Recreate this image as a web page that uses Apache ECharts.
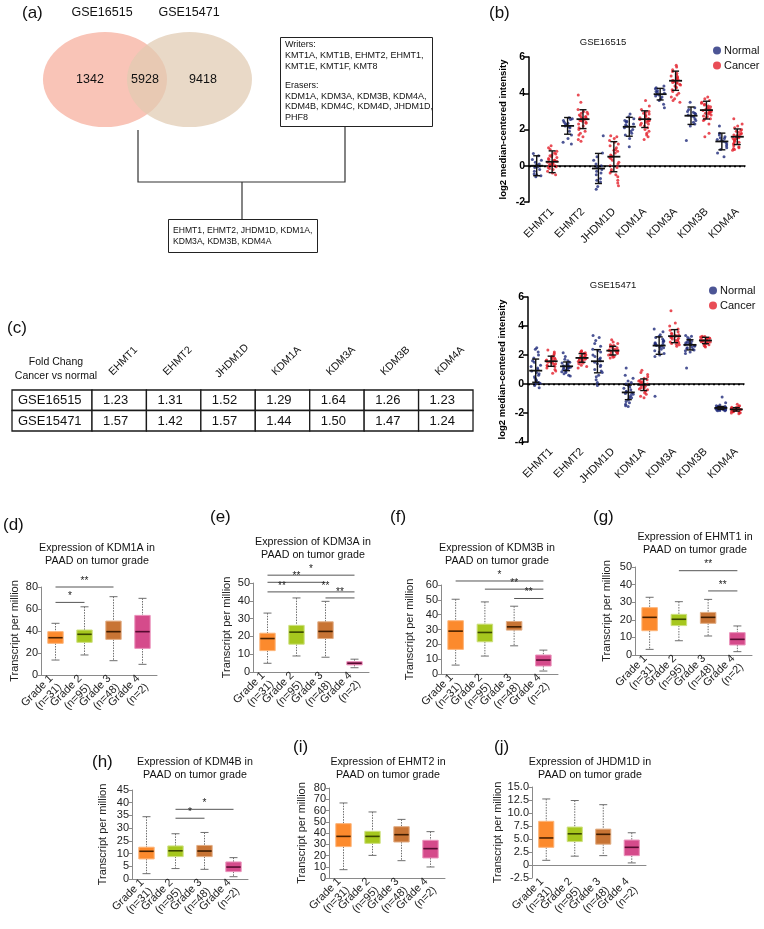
<!DOCTYPE html>
<html><head><meta charset="utf-8">
<script src="https://cdn.jsdelivr.net/npm/echarts@6/dist/echarts.min.js"></script>
<style>html,body{margin:0;padding:0;background:#fff}#c{width:764px;height:929px}</style>
</head><body><div id="c"></div>
<script>
const FONT = 'Liberation Sans, Arial, Helvetica, sans-serif';

// ---------- (a) Venn + gene lists ----------
const vennSets = ['GSE16515', 'GSE15471'];
const vennCounts = [1342, 5928, 9418];
const writersList = ['Writers:', 'KMT1A, KMT1B, EHMT2, EHMT1,', 'KMT1E, KMT1F, KMT8'];
const erasersList = ['Erasers:', 'KDM1A, KDM3A, KDM3B, KDM4A,', 'KDM4B, KDM4C, KDM4D, JHDM1D,', 'PHF8'];
const overlapList = ['EHMT1, EHMT2, JHDM1D, KDM1A,', 'KDM3A, KDM3B, KDM4A'];

// ---------- (b) dot plots ----------
const genes = ['EHMT1', 'EHMT2', 'JHDM1D', 'KDM1A', 'KDM3A', 'KDM3B', 'KDM4A'];
const groupNames = ['Normal', 'Cancer'];

const g16515Normal = [
  [0.68,0.55,0.35,0.3,0.2,0.1,0.05,0,-0.05,-0.1,-0.2,-0.3,-0.45,-0.5,-0.55,-0.6],
  [2.65,2.6,2.55,2.5,2.4,2.35,2.3,2.25,2.2,2.15,2.1,1.9,1.7,1.5,1.3,1.2],
  [1.65,0.7,0.5,0.3,0.1,0,-0.1,-0.2,-0.3,-0.4,-0.5,-0.7,-0.8,-0.9,-1.15,-1.3],
  [2.85,2.7,2.6,2.5,2.45,2.4,2.3,2.25,2.2,2.1,2.0,1.9,1.8,1.7,1.5,1.05],
  [4.4,4.3,4.25,4.2,4.15,4.1,4.05,4.0,3.95,3.9,3.85,3.8,3.7,3.6,3.4,3.2],
  [3.5,3.2,3.1,3.0,2.95,2.9,2.85,2.8,2.75,2.7,2.6,2.5,2.4,2.3,2.2,1.4],
  [2.2,1.8,1.7,1.6,1.55,1.5,1.45,1.4,1.35,1.3,1.2,1.1,1.0,0.9,0.7,0.5]
];
const g16515Cancer = [
  [1.1,1.0,0.9,0.8,0.7,0.65,0.6,0.55,0.5,0.45,0.4,0.35,0.3,0.3,0.25,0.2,0.2,0.15,0.1,0.1,0.05,0,0,-0.05,-0.1,-0.15,-0.2,-0.3,-0.4,-0.5],
  [3.9,3.5,3.1,3.0,2.95,2.9,2.85,2.8,2.75,2.7,2.7,2.65,2.6,2.6,2.55,2.5,2.5,2.45,2.4,2.35,2.3,2.2,2.1,2.0,1.9,1.8,1.7,1.6,1.45,1.35],
  [1.65,1.6,1.5,1.4,1.3,1.2,1.1,1.0,0.9,0.85,0.8,0.7,0.6,0.55,0.5,0.45,0.4,0.3,0.2,0.1,0,-0.1,-0.2,-0.3,-0.4,-0.5,-0.6,-0.8,-0.95,-1.1],
  [3.6,3.3,3.1,3.0,2.95,2.9,2.85,2.8,2.75,2.7,2.65,2.6,2.6,2.55,2.55,2.5,2.5,2.45,2.4,2.35,2.3,2.25,2.2,2.1,2.0,1.9,1.8,1.7,1.6,1.45],
  [5.55,5.45,5.3,5.2,5.1,5.0,4.95,4.9,4.85,4.8,4.75,4.7,4.7,4.65,4.6,4.6,4.55,4.5,4.45,4.4,4.35,4.3,4.2,4.1,4.0,3.9,3.8,3.7,3.6,3.5],
  [3.8,3.7,3.6,3.5,3.45,3.4,3.35,3.3,3.25,3.2,3.15,3.1,3.1,3.05,3.0,3.0,2.95,2.9,2.9,2.85,2.8,2.75,2.7,2.65,2.6,2.55,2.5,2.3,1.8,1.6],
  [2.6,2.3,2.2,2.1,2.0,1.95,1.9,1.85,1.8,1.75,1.7,1.7,1.65,1.6,1.6,1.55,1.5,1.5,1.45,1.4,1.35,1.3,1.25,1.2,1.1,1.05,1.0,0.95,0.9,0.85]
];
const g16515NormalMean = [0, 2.2, -0.15, 2.15, 3.95, 2.76, 1.34];
const g16515NormalSD   = [0.55, 0.46, 0.83, 0.52, 0.32, 0.48, 0.46];
const g16515CancerMean = [0.22, 2.57, 0.5, 2.57, 4.69, 3.07, 1.6];
const g16515CancerSD   = [0.6, 0.52, 0.83, 0.46, 0.53, 0.49, 0.43];

const g15471Normal = [
  [2.5,2.4,2.2,2.0,1.8,1.6,1.5,1.3,1.2,1.1,1.0,0.9,0.8,0.7,0.6,0.5,0.4,0.3,0.25,0.2,0.1,0.05,0,-0.1,-0.25],
  [2.15,1.9,1.7,1.6,1.5,1.45,1.4,1.35,1.3,1.25,1.25,1.2,1.2,1.15,1.1,1.1,1.05,1.0,0.95,0.9,0.85,0.8,0.7,0.6,0.55],
  [3.35,3.2,3.0,2.8,2.6,2.4,2.3,2.2,2.0,1.9,1.8,1.7,1.6,1.5,1.4,1.3,1.2,1.0,0.9,0.8,0.6,0.5,0.3,0.1,-0.1],
  [1.1,0.6,0.4,0.2,0.1,0,-0.1,-0.2,-0.3,-0.4,-0.5,-0.55,-0.6,-0.65,-0.7,-0.8,-0.9,-0.95,-1.0,-1.1,-1.2,-1.3,-1.4,-1.5,-1.55],
  [3.8,3.6,3.4,3.3,3.2,3.1,3.0,2.95,2.9,2.85,2.8,2.75,2.7,2.7,2.65,2.6,2.55,2.5,2.4,2.3,2.2,2.1,2.0,1.9,-0.85],
  [3.35,3.3,3.2,3.1,3.05,3.0,2.95,2.9,2.85,2.8,2.8,2.75,2.7,2.7,2.65,2.6,2.55,2.5,2.45,2.4,2.35,2.3,2.2,2.1,1.1],
  [-0.9,-1.3,-1.45,-1.5,-1.55,-1.55,-1.6,-1.6,-1.6,-1.62,-1.65,-1.65,-1.65,-1.68,-1.7,-1.7,-1.72,-1.75,-1.75,-1.78,-1.8,-1.8,-1.82,-1.85,-1.85]
];
const g15471Cancer = [
  [2.35,2.2,2.1,2.0,1.9,1.85,1.8,1.75,1.7,1.65,1.6,1.6,1.55,1.5,1.5,1.45,1.4,1.35,1.3,1.25,1.2,1.1,1.0,0.9,0.75],
  [2.3,2.25,2.2,2.15,2.1,2.05,2.0,1.95,1.9,1.85,1.85,1.8,1.8,1.75,1.7,1.7,1.65,1.6,1.55,1.5,1.45,1.4,1.3,1.2,1.1],
  [3.05,2.9,2.8,2.7,2.65,2.6,2.55,2.5,2.45,2.4,2.35,2.35,2.3,2.3,2.25,2.2,2.2,2.15,2.1,2.05,2.0,1.95,1.9,1.85,1.8],
  [0.95,0.8,0.65,0.5,0.4,0.3,0.25,0.2,0.15,0.1,0.05,0,-0.05,-0.1,-0.15,-0.2,-0.25,-0.3,-0.35,-0.4,-0.5,-0.6,-0.7,-0.85,-0.95],
  [5.05,4.2,4.0,3.8,3.7,3.6,3.5,3.45,3.4,3.35,3.3,3.3,3.25,3.2,3.15,3.1,3.05,3.0,2.95,2.9,2.85,2.8,2.75,2.7,2.6],
  [3.3,3.28,3.25,3.2,3.18,3.15,3.1,3.08,3.05,3.02,3.0,3.0,2.98,2.95,2.92,2.9,2.88,2.85,2.82,2.8,2.75,2.7,2.65,2.6,2.55],
  [-1.4,-1.5,-1.55,-1.6,-1.62,-1.65,-1.68,-1.7,-1.7,-1.72,-1.75,-1.75,-1.75,-1.78,-1.8,-1.8,-1.82,-1.85,-1.88,-1.9,-1.92,-1.95,-1.98,-2.0,-2.05]
];
const g15471NormalMean = [0.92, 1.22, 1.57, -0.58, 2.65, 2.7, -1.65];
const g15471NormalSD   = [0.8, 0.3, 0.8, 0.5, 0.6, 0.35, 0.1];
const g15471CancerMean = [1.57, 1.8, 2.3, -0.05, 3.3, 3.0, -1.75];
const g15471CancerSD   = [0.35, 0.3, 0.3, 0.4, 0.45, 0.22, 0.12];

// ---------- (c) fold change table ----------
const foldRowNames = ['GSE16515', 'GSE15471'];
const fold16515 = [1.23, 1.31, 1.52, 1.29, 1.64, 1.26, 1.23];
const fold15471 = [1.57, 1.42, 1.57, 1.44, 1.50, 1.47, 1.24];

// ---------- (d)-(j) box plots: [min, q1, median, q3, max] ----------
const grades = ['Grade 1\n(n=31)', 'Grade 2\n(n=95)', 'Grade 3\n(n=48)', 'Grade 4\n(n=2)'];
const kdm1aBox  = [[13.6,28.8,33.9,39.4,47],[18.2,29.7,37,40.9,62],[13,32.4,39.4,49,71.2],[9.7,24.2,39.4,54.2,69.7]];
const kdm3aBox  = [[4.9,12,18.8,21.8,33.1],[9,15.6,22.4,26.2,41.6],[8.3,18.8,22.8,28.2,39.7],[2.4,4,4.9,5.8,7.2]];
const kdm3bBox  = [[6,16.6,28.9,35.9,50.4],[12.1,21.7,28,33.6,48.6],[19,29.6,31.8,35.4,45.7],[2,5.4,9.4,12.8,16.1]];
const ehmt1Box  = [[3.2,13.8,21.4,26.9,32.8],[8.1,16.7,20.3,23.1,30.3],[10.8,18,21.4,24.2,31.6],[1.9,5.7,8.9,12.7,16.5]];
const kdm4bBox  = [[2.1,7.9,10.9,12.5,24.5],[4.1,8.8,11.1,13,17.8],[3.8,8.8,11,13.2,18.3],[0.9,2.9,4.7,6.7,8.4]];
const ehmt2Box  = [[7.4,27.9,37,48.3,66.7],[20.1,30.8,37,41.5,58.7],[15.4,32,38.5,45.6,52.1],[9.8,17.8,26.1,33.5,41.2]];
const jhdm1dBox = [[0.9,3.4,5.2,8.4,12.7],[1.7,4.5,6,7.3,12.4],[1.8,4,5.9,6.9,11.6],[0.4,1.8,3.4,4.8,6.2]];
// (h) tick labels as printed in the figure
const kdm4bTicks = ['0','5','10','25','30','35','40','45'];

// significance bars: [from grade, to grade, level, stars]
const kdm1aSig = [[0,2,80,'**'],[0,1,66,'*']];
const kdm3aSig = [[0,3,54.4,'*'],[0,2,50.4,'**'],[0,1,45,'**'],[1,3,45,'**'],[2,3,41.6,'**']];
const kdm3bSig = [[0,3,62.7,'*'],[1,3,57.2,'**'],[2,3,50.9,'**']];
const ehmt1Sig = [[1,3,47.9,'**'],[2,3,36.4,'**']];
const kdm4bSig = [[1,3,27.4,'*'],[1,2,23.9,'*']];
const noSig = [];

// ---------- styles ----------
const boxColors = [
  {fill:'#fc8a2d', edge:'#fdb478', med:'#4a2200'},
  {fill:'#a6c71e', edge:'#cde07f', med:'#3a4600'},
  {fill:'#c87434', edge:'#e2ad84', med:'#3e1c00'},
  {fill:'#d54b8b', edge:'#ea92bb', med:'#560b30'}
];
const NORMAL_C = '#1f2b7b', CANCER_C = '#e3202c';

const grids = [], xAxes = [], yAxes = [], series = [], graphics = [];

function txt(text, x, y, size, opts) {
  opts = opts || {};
  graphics.push({type:'text', x:x, y:y, rotation: opts.rotation || 0, silent:true,
    style:{text:text, fontSize:size, fontFamily:FONT, fill: opts.fill || '#111',
      fontWeight: opts.weight || 'normal', align: opts.align || 'center',
      verticalAlign: opts.valign || 'middle', lineHeight: opts.lh || size * 1.2}});
}

// ---------- (b) ----------
const cats14 = [];
genes.forEach(g => { cats14.push(g + ' N'); cats14.push(g + ' C'); });
const bPanels = [
  {normal:g16515Normal, cancer:g16515Cancer, nm:g16515NormalMean, ns:g16515NormalSD, cm:g16515CancerMean, cs:g16515CancerSD,
   grid:{left:529, top:57, width:216, height:145}, y:[-2,6,2], title:'GSE16515', tx:603, ty:42, lg:{left:713, top:45}},
  {normal:g15471Normal, cancer:g15471Cancer, nm:g15471NormalMean, ns:g15471NormalSD, cm:g15471CancerMean, cs:g15471CancerSD,
   grid:{left:528, top:297, width:216, height:145}, y:[-4,6,2], title:'GSE15471', tx:613, ty:285, lg:{left:709, top:285}}
];
const legends = [];
bPanels.forEach((p) => {
  const gi = grids.length;
  grids.push(Object.assign({}, p.grid));
  xAxes.push({type:'category', gridIndex:gi, data:cats14, boundaryGap:true, jitter:10, jitterOverlap:true,
    axisLine:{lineStyle:{color:'#000', width:1.5}},
    axisTick:{alignWithLabel:true, interval:0, length:5, lineStyle:{color:'#000', width:1.5}},
    axisLabel:{interval:0, rotate:45, fontSize:11, color:'#111', fontFamily:FONT, margin:8,
      formatter:(v, i) => (i % 2 ? genes[(i - 1) / 2] : '')},
    splitLine:{show:false}});
  yAxes.push({type:'value', gridIndex:gi, min:p.y[0], max:p.y[1], interval:p.y[2],
    axisLine:{show:true, lineStyle:{color:'#000', width:1.5}},
    axisTick:{show:true, length:5, lineStyle:{color:'#000', width:1.5}},
    axisLabel:{fontWeight:'bold', fontSize:10.5, color:'#000', fontFamily:FONT, margin:4},
    splitLine:{show:false},
    name:'log2 median-centered intensity', nameLocation:'middle', nameGap:21,
    nameTextStyle:{fontWeight:'bold', fontSize:9.5, color:'#000', fontFamily:FONT}});
  const nData = [], cData = [], eData = [];
  p.normal.forEach((arr, g) => arr.forEach(v => nData.push([2 * g, v])));
  p.cancer.forEach((arr, g) => arr.forEach(v => cData.push([2 * g + 1, v])));
  genes.forEach((g, i) => { eData.push([2 * i, p.nm[i], p.ns[i]]); eData.push([2 * i + 1, p.cm[i], p.cs[i]]); });
  series.push({type:'scatter', name:groupNames[0], xAxisIndex:gi, yAxisIndex:gi, data:nData, symbolSize:3,
    itemStyle:{color:NORMAL_C}, z:2,
    markLine:{silent:true, symbol:'none', label:{show:false}, lineStyle:{type:[2,3], color:'#000', width:1.3},
      data:[{yAxis:0}]}});
  series.push({type:'scatter', name:groupNames[1], xAxisIndex:gi, yAxisIndex:gi, data:cData, symbolSize:3,
    itemStyle:{color:CANCER_C}, z:2});
  series.push({type:'custom', xAxisIndex:gi, yAxisIndex:gi, data:eData, z:4, silent:true,
    encode:{x:0, y:1},
    renderItem:(params, api) => {
      const x = api.value(0), m = api.value(1), s = api.value(2);
      const pm = api.coord([x, m]), pt = api.coord([x, m + s]), pb = api.coord([x, m - s]);
      const st = {stroke:'#111', lineWidth:1.4};
      return {type:'group', children:[
        {type:'line', shape:{x1:pm[0], y1:pt[1], x2:pm[0], y2:pb[1]}, style:st},
        {type:'line', shape:{x1:pm[0]-3.5, y1:pt[1], x2:pm[0]+3.5, y2:pt[1]}, style:st},
        {type:'line', shape:{x1:pm[0]-3.5, y1:pb[1], x2:pm[0]+3.5, y2:pb[1]}, style:st},
        {type:'line', shape:{x1:pm[0]-6.5, y1:pm[1], x2:pm[0]+6.5, y2:pm[1]}, style:{stroke:'#111', lineWidth:1.8}}
      ]};
    }});
  legends.push({data:groupNames, orient:'vertical', left:p.lg.left, top:p.lg.top, icon:'circle',
    itemWidth:8, itemHeight:8, itemGap:4, padding:0, selectedMode:false,
    textStyle:{fontSize:11, color:'#111', fontFamily:FONT, padding:[0,0,0,-2]}});
  txt(p.title, p.tx, p.ty, 9.5);
});

// ---------- box panels ----------
const boxPanels = [
  {lab:'(d)', lx:3, ly:525, gene:'KDM1A', box:kdm1aBox, sig:kdm1aSig, grid:{left:41, top:587, width:116, height:88}, y:[0,80,20], gap:20.5, tx:97, ty:548},
  {lab:'(e)', lx:210, ly:517, gene:'KDM3A', box:kdm3aBox, sig:kdm3aSig, grid:{left:253, top:583, width:116, height:89}, y:[0,50,10], gap:20.5, tx:313, ty:542},
  {lab:'(f)', lx:390, ly:517, gene:'KDM3B', box:kdm3bBox, sig:kdm3bSig, grid:{left:441, top:585, width:117, height:89}, y:[0,60,10], gap:25.5, tx:497, ty:548},
  {lab:'(g)', lx:593, ly:517, gene:'EHMT1', box:ehmt1Box, sig:ehmt1Sig, grid:{left:635, top:567, width:117, height:88}, y:[0,50,10], gap:22.5, tx:695, ty:537},
  {lab:'(h)', lx:92, ly:762, gene:'KDM4B', box:kdm4bBox, sig:kdm4bSig, grid:{left:132, top:790, width:116, height:89}, y:[0,35,5], gap:23.5, tx:195, ty:762, ticks:kdm4bTicks},
  {lab:'(i)', lx:293, ly:747, gene:'EHMT2', box:ehmt2Box, sig:noSig, grid:{left:329, top:788, width:116, height:90}, y:[0,80,10], gap:21.5, tx:388, ty:762},
  {lab:'(j)', lx:494, ly:747, gene:'JHDM1D', box:jhdm1dBox, sig:noSig, grid:{left:532, top:787, width:114, height:91}, y:[-2.5,15,2.5], gap:26.5, tx:590, ty:762, dec:true}
];
boxPanels.forEach((p) => {
  const gi = grids.length;
  grids.push(Object.assign({}, p.grid));
  xAxes.push({type:'category', gridIndex:gi, data:grades, boundaryGap:true,
    axisLine:{lineStyle:{color:'#8a8a8a', width:1}},
    axisTick:{alignWithLabel:true, length:3, lineStyle:{color:'#8a8a8a'}},
    axisLabel:{interval:0, rotate:45, fontSize:11, color:'#222', fontFamily:FONT, margin:6, lineHeight:12},
    splitLine:{show:false}});
  let fmt;
  if (p.ticks) fmt = (v) => p.ticks[Math.round(v / p.y[2])];
  else if (p.dec) fmt = (v) => (v === 0 ? '0' : v.toFixed(1));
  yAxes.push({type:'value', gridIndex:gi, min:p.y[0], max:p.y[1], interval:p.y[2],
    axisLine:{show:true, lineStyle:{color:'#8a8a8a', width:1}},
    axisTick:{show:true, length:3, lineStyle:{color:'#8a8a8a'}},
    axisLabel:{fontSize:11, color:'#222', fontFamily:FONT, margin:3, formatter:fmt},
    splitLine:{show:false},
    name:'Transcript per million', nameLocation:'middle', nameGap:p.gap,
    nameTextStyle:{fontSize:11, color:'#222', fontFamily:FONT}});
  series.push({type:'custom', xAxisIndex:gi, yAxisIndex:gi, silent:true, z:3,
    data:p.box.map((b, i) => [i].concat(b)), encode:{x:0, y:[1,2,3,4,5]},
    renderItem:(params, api) => {
      const x = api.value(0);
      const lo = api.coord([x, api.value(1)]), q1 = api.coord([x, api.value(2)]),
            md = api.coord([x, api.value(3)]), q3 = api.coord([x, api.value(4)]),
            hi = api.coord([x, api.value(5)]);
      const bw = api.size([1, 0])[0], w = bw * 0.53, cx = lo[0];
      const c = boxColors[x];
      const ws = {stroke:'#6e6e6e', lineWidth:1, lineDash:[1.5,1.2]};
      const cs = {stroke:'#6e6e6e', lineWidth:1};
      return {type:'group', children:[
        {type:'line', shape:{x1:cx, y1:hi[1], x2:cx, y2:q3[1]}, style:ws},
        {type:'line', shape:{x1:cx, y1:q1[1], x2:cx, y2:lo[1]}, style:ws},
        {type:'line', shape:{x1:cx-4, y1:hi[1], x2:cx+4, y2:hi[1]}, style:cs},
        {type:'line', shape:{x1:cx-4, y1:lo[1], x2:cx+4, y2:lo[1]}, style:cs},
        {type:'rect', shape:{x:cx-w/2, y:q3[1], width:w, height:q1[1]-q3[1]}, style:{fill:c.fill, stroke:c.edge, lineWidth:1}},
        {type:'line', shape:{x1:cx-w/2+0.5, y1:md[1], x2:cx+w/2-0.5, y2:md[1]}, style:{stroke:c.med, lineWidth:1.6}}
      ]};
    }});
  if (p.sig.length) {
    const sig = p.sig;
    series.push({type:'custom', xAxisIndex:gi, yAxisIndex:gi, silent:true, z:3,
      data:sig.map(s => [s[0], s[1], s[2]]), encode:{x:[0,1], y:2},
      renderItem:(params, api) => {
        const a = api.coord([api.value(0), api.value(2)]), b = api.coord([api.value(1), api.value(2)]);
        return {type:'group', children:[
          {type:'line', shape:{x1:a[0], y1:a[1], x2:b[0], y2:b[1]}, style:{stroke:'#555', lineWidth:1}},
          {type:'text', x:(a[0] + b[0]) / 2, y:a[1] - 1,
           style:{text:sig[params.dataIndex][3], fontSize:10, fontFamily:FONT, fill:'#222', align:'center', verticalAlign:'bottom'}}
        ]};
      }});
  }
  txt('Expression of ' + p.gene + ' in\nPAAD on tumor grade', p.tx, p.ty + 6.5, 10.7, {lh:13});
  txt(p.lab, p.lx, p.ly, 17, {align:'left'});
});

// ---------- (a) graphics ----------
txt('(a)', 22, 13, 17, {align:'left'});
txt('(b)', 489, 13, 17, {align:'left'});
txt('(c)', 7, 328, 17, {align:'left'});
graphics.push({type:'circle', x:105, y:79.5, scaleX:62/47.5, shape:{cx:0, cy:0, r:47.5}, style:{fill:'#f9c4b7'}, silent:true});
graphics.push({type:'circle', x:189.5, y:79.5, scaleX:62.5/47.5, shape:{cx:0, cy:0, r:47.5}, style:{fill:'rgba(225,203,178,0.72)'}, silent:true});
txt(vennSets[0], 102, 13, 12.5);
txt(vennSets[1], 189, 13, 12.5);
txt(String(vennCounts[0]), 90, 80, 12.5);
txt(String(vennCounts[1]), 145, 80, 12.5);
txt(String(vennCounts[2]), 203, 80, 12.5);
graphics.push({type:'rect', shape:{x:280.5, y:37.5, width:152, height:89}, style:{fill:'#fff', stroke:'#222', lineWidth:1}, silent:true});
txt(writersList.join('\n'), 285, 39, 9, {align:'left', valign:'top', lh:11.2});
txt(erasersList.join('\n'), 285, 80, 9, {align:'left', valign:'top', lh:10.7});
graphics.push({type:'polyline', shape:{points:[[138,130],[138,182],[345,182],[345,127]]}, style:{stroke:'#333', lineWidth:1.2, fill:null}, silent:true});
graphics.push({type:'line', shape:{x1:242, y1:182, x2:242, y2:219}, style:{stroke:'#333', lineWidth:1.2}, silent:true});
graphics.push({type:'rect', shape:{x:168.5, y:219.5, width:149, height:33}, style:{fill:'#fff', stroke:'#222', lineWidth:1}, silent:true});
txt(overlapList.join('\n'), 173, 225.5, 8.6, {align:'left', valign:'top', lh:11});

// ---------- (c) table graphics ----------
const colX = [12, 92];
for (let i = 1; i <= genes.length; i++) colX.push(92 + i * 54.43);
const rowY = [390, 410.5, 431];
txt('Fold Chang\nCancer vs normal', 56, 369.5, 10.5, {lh:14});
genes.forEach((g, i) => {
  const cx = (colX[i + 1] + colX[i + 2]) / 2 + 4;
  txt(g, cx, 361, 10.5, {rotation:Math.PI / 4});
});
[fold16515, fold15471].forEach((row, r) => {
  const y0 = rowY[r], y1 = rowY[r + 1];
  for (let c = 0; c < colX.length - 1; c++) {
    graphics.push({type:'rect', shape:{x:colX[c], y:y0, width:colX[c + 1] - colX[c], height:y1 - y0},
      style:{fill:'#fff', stroke:'#1a1a1a', lineWidth:1.3}, silent:true});
  }
  txt(foldRowNames[r], colX[0] + 6, (y0 + y1) / 2 + 0.5, 13, {align:'left'});
  row.forEach((v, i) => txt(v.toFixed(2), colX[i + 1] + 11, (y0 + y1) / 2 + 0.5, 13, {align:'left'}));
});

const chart = echarts.init(document.getElementById('c'), null, {renderer:'canvas'});
chart.setOption({
  animation:false,
  backgroundColor:'#fff',
  textStyle:{fontFamily:FONT},
  grid:grids, xAxis:xAxes, yAxis:yAxes, series:series, legend:legends,
  graphic:{elements:graphics}
});
</script></body></html>
